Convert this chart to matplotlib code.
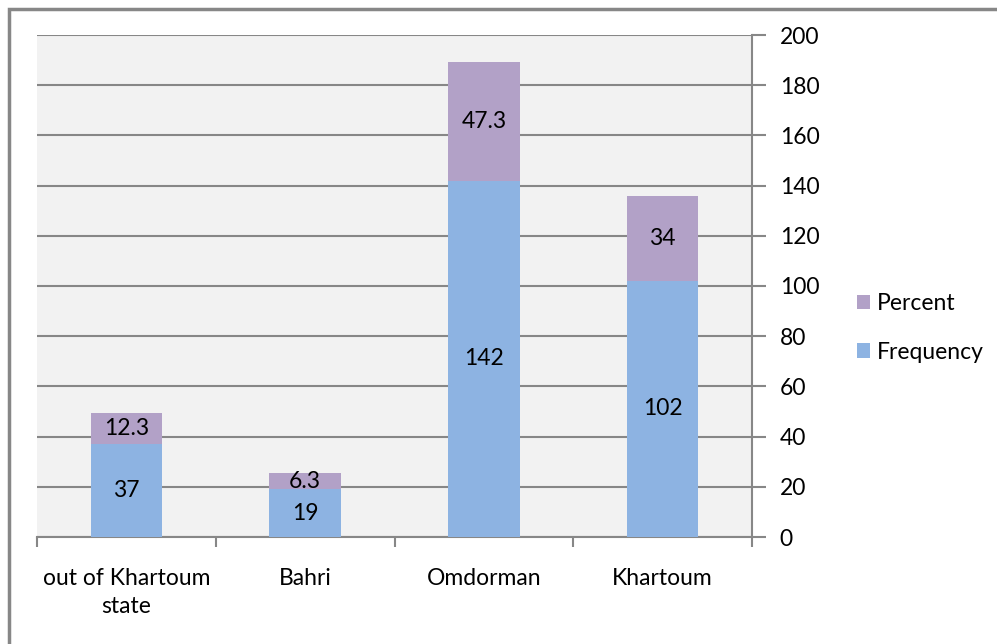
import matplotlib.pyplot as plt
from matplotlib.patches import Rectangle

# data
places = ['out of Khartoum\nstate', 'Bahri', 'Omdorman', 'Khartoum']
frequency = [37, 19, 142, 102]
percent = [12.3, 6.3, 47.3, 34]

blue = '#8db3e2'
purple = '#b2a1c7'
grid = '#878787'

plt.rcParams['font.family'] = ['Lato', 'DejaVu Sans']
fs = 16.5

fig = plt.figure(figsize=(9.97, 6.44), dpi=100)
ax = fig.add_axes([37/997, 1 - 537/644, (752-37)/997, (537-35)/644])
ax.set_facecolor('#f2f2f2')

x = list(range(len(places)))
ax.bar(x, frequency, width=0.4, color=blue, label='Frequency', zorder=3)
ax.bar(x, percent, width=0.4, bottom=frequency, color=purple, label='Percent', zorder=3)

# value labels in the middle of each segment
for i in x:
    ax.text(i, frequency[i] / 2, str(frequency[i]), ha='center', va='center', fontsize=fs, zorder=4)
    ax.text(i, frequency[i] + percent[i] / 2, '%g' % percent[i], ha='center', va='center', fontsize=fs, zorder=4)

ax.set_xlim(-0.5, 3.5)
ax.set_ylim(0, 200)
ax.set_yticks(range(0, 201, 20))
ax.yaxis.tick_right()
ax.yaxis.grid(True, color=grid, linewidth=1.5, zorder=1)
ax.tick_params(axis='y', length=10, width=1.5, color=grid, labelsize=fs, pad=10, direction='out')

# category boundaries as x ticks, labels at centres
ax.set_xticks([-0.5, 0.5, 1.5, 2.5, 3.5])
ax.set_xticklabels([])
ax.set_xticks(x, minor=True)
ax.set_xticklabels(places, minor=True, fontsize=fs, linespacing=1.45)
ax.tick_params(axis='x', which='minor', length=0, pad=22)
ax.tick_params(axis='x', which='major', length=7, width=1.5, color=grid)

for s in ['top', 'left']:
    ax.spines[s].set_visible(False)
ax.spines['bottom'].set_color(grid)
ax.spines['bottom'].set_linewidth(1.5)
ax.spines['right'].set_color(grid)
ax.spines['right'].set_linewidth(1.5)

handles, labels = ax.get_legend_handles_labels()
fig.legend(handles[::-1], labels[::-1], loc='center left', bbox_to_anchor=(836/997, 1 - 328/644),
           frameon=False, fontsize=fs, handlelength=0.6, handleheight=0.6, handletextpad=0.3,
           labelspacing=1.2)

# outer chart border
fig.patches.append(Rectangle((9/997, -0.01), 1.0, 1 - 9/644 + 0.01, transform=fig.transFigure,
                             fill=False, edgecolor=grid, linewidth=2.5))

fig.savefig('out.png', dpi=100)
